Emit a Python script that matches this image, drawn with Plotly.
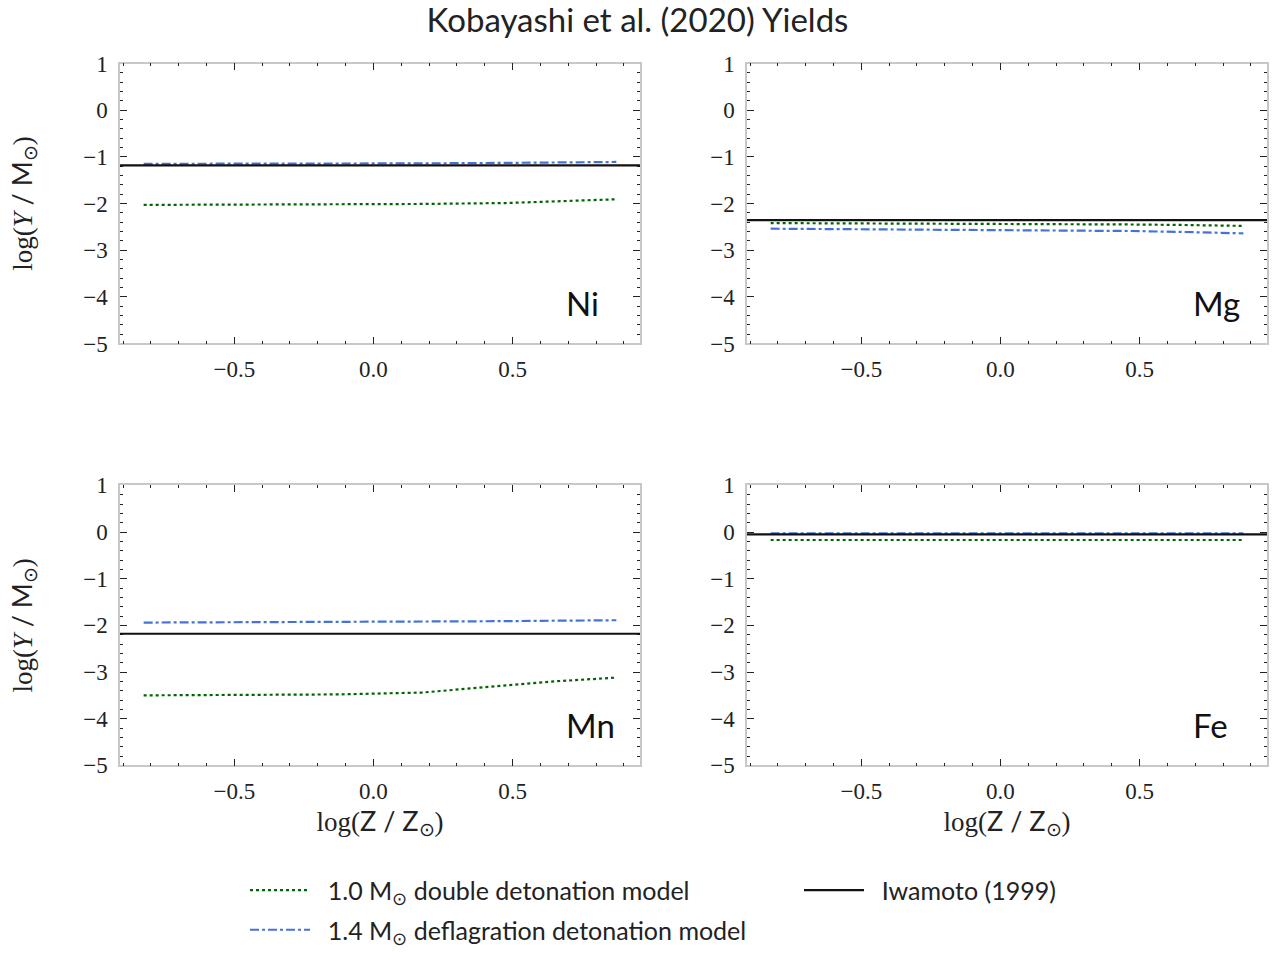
import plotly.graph_objects as go

# metallicity grid (log Z/Zsun)
logZ = [-0.826, -0.127, 0.174, 0.475, 0.651, 0.873]

elements = ["Ni", "Mg", "Mn", "Fe"]
dd10 = {  # 1.0 Msun double detonation
    "Ni": [-2.03, -2.02, -2.01, -1.99, -1.95, -1.91],
    "Mg": [-2.42, -2.43, -2.44, -2.45, -2.46, -2.48],
    "Mn": [-3.50, -3.48, -3.44, -3.28, -3.20, -3.12],
    "Fe": [-0.17, -0.17, -0.17, -0.17, -0.17, -0.17],
}
dd14 = {  # 1.4 Msun deflagration detonation
    "Ni": [-1.15, -1.15, -1.14, -1.13, -1.12, -1.11],
    "Mg": [-2.54, -2.56, -2.57, -2.59, -2.61, -2.64],
    "Mn": [-1.94, -1.93, -1.92, -1.91, -1.90, -1.89],
    "Fe": [-0.03, -0.03, -0.03, -0.03, -0.03, -0.03],
}
iwamoto = {"Ni": -1.185, "Mg": -2.355, "Mn": -2.18, "Fe": -0.05}

x_ticks = [-0.5, 0.0, 0.5]
y_ticks = [1, 0, -1, -2, -3, -4, -5]

GREEN = "#006400"
BLUE = "#4472D8"
BLACK = "#111111"
SERIF = "Liberation Serif"
SANS = "Lato"
PAD = "&nbsp;&nbsp;"

W, H = 1275, 953
xdom = [[120 / W, 640 / W], [747 / W, 1267 / W]]
ydom = [[1 - 346 / H, 1 - 64 / H], [1 - 771 / H, 1 - 489 / H]]

fig = go.Figure()
layout = {}
for i, el in enumerate(elements):
    r, c = divmod(i, 2)
    n = "" if i == 0 else str(i + 1)
    xa, ya = "x" + n, "y" + n
    first = i == 0
    fig.add_trace(go.Scatter(x=logZ, y=dd10[el], mode="lines", xaxis=xa, yaxis=ya,
                             line=dict(color=GREEN, width=2.2, dash="dot"),
                             name=PAD + "1.0 M<sub>⊙</sub> double detonation model",
                             showlegend=first, legend="legend"))
    fig.add_trace(go.Scatter(x=logZ, y=dd14[el], mode="lines", xaxis=xa, yaxis=ya,
                             line=dict(color=BLUE, width=2.2, dash="dashdot"),
                             name=PAD + "1.4 M<sub>⊙</sub> deflagration detonation model",
                             showlegend=first, legend="legend3"))
    fig.add_shape(type="line", xref=xa + " domain", yref=ya, x0=0, x1=1,
                  y0=iwamoto[el], y1=iwamoto[el], line=dict(color=BLACK, width=2.2))
    common = dict(showline=True, linecolor="#c8c8c8", linewidth=1.5, mirror="allticks",
                  ticks="inside", tickcolor="#222222", ticklen=7, tickwidth=1.2,
                  tickfont=dict(family=SERIF, size=23, color="#222222"),
                  showgrid=False, zeroline=False, automargin=False)
    layout["xaxis" + n] = dict(common, domain=xdom[c], anchor=ya, range=[-0.911, 0.958],
                               tickvals=x_ticks, tickformat=".1f", ticklabelstandoff=4,
                               minor=dict(dtick=0.1, tick0=0, ticks="inside", ticklen=3,
                                          tickcolor="#222222", tickwidth=1.2))
    layout["yaxis" + n] = dict(common, domain=ydom[r], anchor=xa, range=[-5, 1],
                               tickvals=y_ticks, ticklabelstandoff=6,
                               minor=dict(dtick=0.2, tick0=0, ticks="inside", ticklen=3,
                                          tickcolor="#222222", tickwidth=1.2))
    if r == 1:
        layout["xaxis" + n]["title"] = dict(
            text="log(<span style='font-family:Lato'>Z / Z</span><sub>⊙</sub>)",
            font=dict(family=SERIF, size=27, color="#222222"), standoff=7)
    if c == 0:
        layout["yaxis" + n]["title"] = dict(
            text="log(<i>Y</i> <span style='font-family:Lato'>/ M</span><sub>⊙</sub>)",
            font=dict(family=SERIF, size=27, color="#222222"), standoff=43)
    fig.add_annotation(text=el, xref=xa + " domain", yref=ya + " domain", x=0.853, y=0.145,
                       xanchor="left", yanchor="middle", showarrow=False,
                       font=dict(family=SANS, size=33, color=BLACK))

# legend entry for the Iwamoto line
fig.add_trace(go.Scatter(x=[None], y=[None], mode="lines", line=dict(color=BLACK, width=2.2),
                         name=PAD + "Iwamoto (1999)", legend="legend2"))

leg = dict(orientation="h", xanchor="left", yanchor="middle", bgcolor="rgba(0,0,0,0)",
           font=dict(family=SANS, size=25, color="#222222"), itemwidth=60)
fig.update_layout(
    **layout,
    width=W, height=H,
    margin=dict(l=0, r=0, t=0, b=0),
    paper_bgcolor="white", plot_bgcolor="white",
    title=dict(text="Kobayashi et al. (2020) Yields", x=0.5, xanchor="center",
               y=1 - 20 / H, yanchor="middle",
               font=dict(family=SANS, size=33, color="#222222")),
    legend=dict(leg, x=245 / W, y=1 - 897 / H),
    legend2=dict(leg, x=799 / W, y=1 - 897 / H),
    legend3=dict(leg, x=245 / W, y=1 - 937 / H),
    showlegend=True,
)
fig.write_html("out.html")
